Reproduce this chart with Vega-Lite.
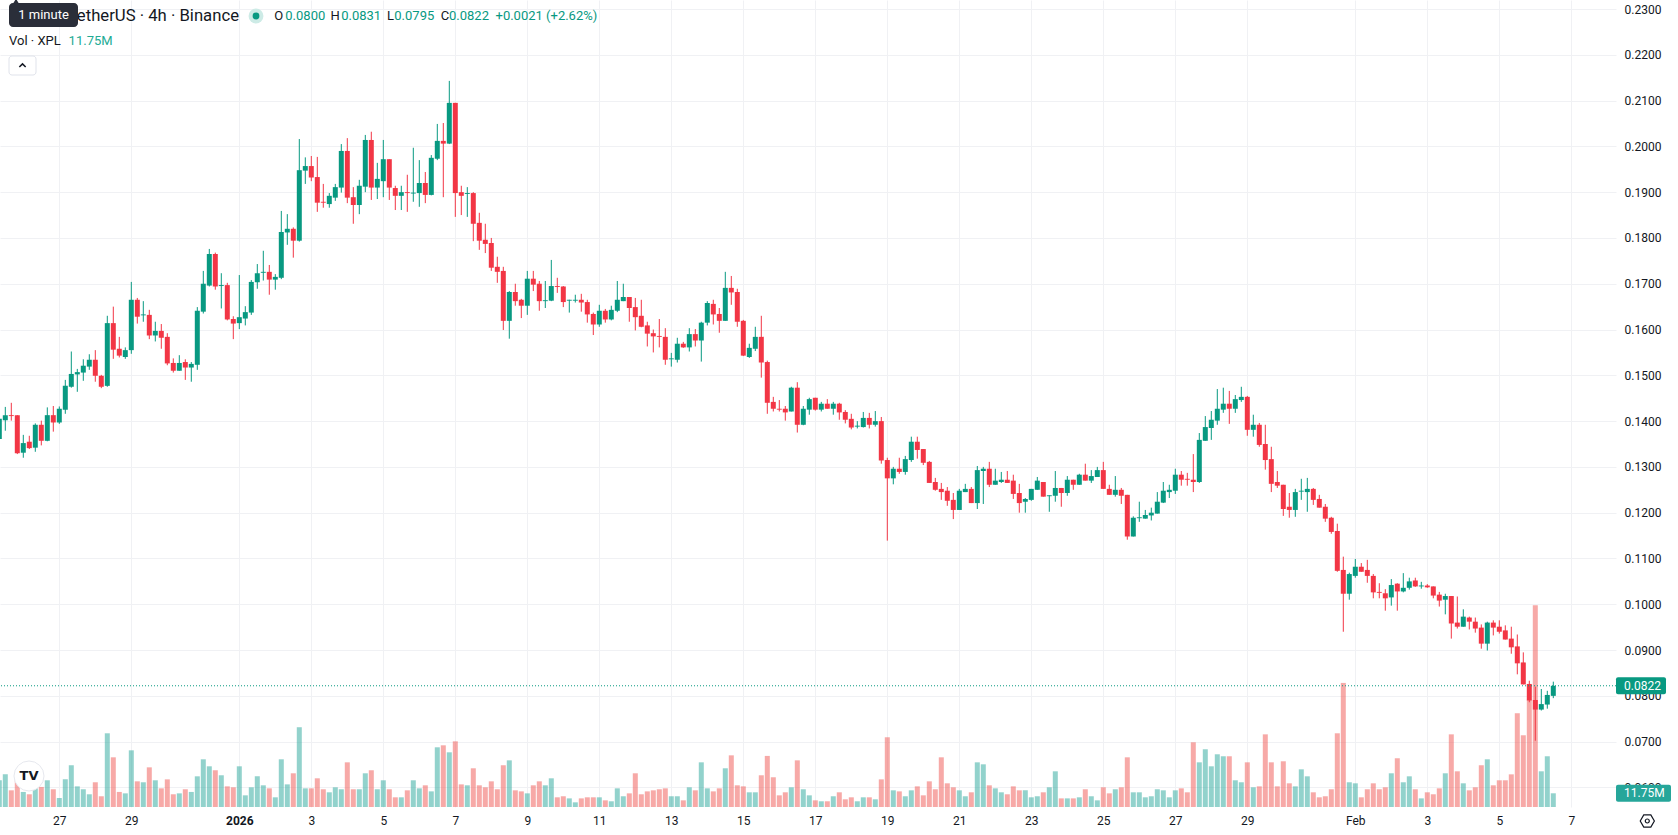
{
  "$schema": "https://vega.github.io/schema/vega-lite/v6.json",
  "width": 1616,
  "height": 807,
  "padding": {"left": 0, "top": 0, "right": 62, "bottom": 28},
  "autosize": {"type": "none"},
  "background": "#ffffff",
  "config": {"view": {"stroke": null}, "font": "Roboto"},
  "data": {
    "values": [
      {"t": "2025-12-25T08:00Z", "o": 0.1361, "h": 0.1410, "l": 0.1355, "c": 0.1405, "v": 22.9},
      {"t": "2025-12-25T12:00Z", "o": 0.1402, "h": 0.1431, "l": 0.1379, "c": 0.1413, "v": 28.0},
      {"t": "2025-12-25T16:00Z", "o": 0.1413, "h": 0.1440, "l": 0.1401, "c": 0.1411, "v": 14.3},
      {"t": "2025-12-25T20:00Z", "o": 0.1413, "h": 0.1413, "l": 0.1328, "c": 0.1330, "v": 25.0},
      {"t": "2025-12-26T00:00Z", "o": 0.1331, "h": 0.1370, "l": 0.1320, "c": 0.1352, "v": 12.9},
      {"t": "2025-12-26T04:00Z", "o": 0.1355, "h": 0.1368, "l": 0.1339, "c": 0.1341, "v": 10.9},
      {"t": "2025-12-26T08:00Z", "o": 0.1342, "h": 0.1395, "l": 0.1333, "c": 0.1392, "v": 18.6},
      {"t": "2025-12-26T12:00Z", "o": 0.1392, "h": 0.1401, "l": 0.1347, "c": 0.1357, "v": 17.2},
      {"t": "2025-12-26T16:00Z", "o": 0.1357, "h": 0.1430, "l": 0.1356, "c": 0.1413, "v": 22.9},
      {"t": "2025-12-26T20:00Z", "o": 0.1413, "h": 0.1433, "l": 0.1377, "c": 0.1397, "v": 15.2},
      {"t": "2025-12-27T00:00Z", "o": 0.1397, "h": 0.1432, "l": 0.1394, "c": 0.1427, "v": 7.7},
      {"t": "2025-12-27T04:00Z", "o": 0.1425, "h": 0.1490, "l": 0.1416, "c": 0.1477, "v": 23.7},
      {"t": "2025-12-27T08:00Z", "o": 0.1475, "h": 0.1552, "l": 0.1473, "c": 0.1503, "v": 35.8},
      {"t": "2025-12-27T12:00Z", "o": 0.1502, "h": 0.1514, "l": 0.1464, "c": 0.1507, "v": 17.7},
      {"t": "2025-12-27T16:00Z", "o": 0.1506, "h": 0.1535, "l": 0.1488, "c": 0.1521, "v": 15.2},
      {"t": "2025-12-27T20:00Z", "o": 0.1519, "h": 0.1546, "l": 0.1512, "c": 0.1534, "v": 10.9},
      {"t": "2025-12-28T00:00Z", "o": 0.1534, "h": 0.1555, "l": 0.1486, "c": 0.1499, "v": 21.2},
      {"t": "2025-12-28T04:00Z", "o": 0.1499, "h": 0.1501, "l": 0.1472, "c": 0.1475, "v": 9.2},
      {"t": "2025-12-28T08:00Z", "o": 0.1477, "h": 0.1630, "l": 0.1475, "c": 0.1614, "v": 63.2},
      {"t": "2025-12-28T12:00Z", "o": 0.1614, "h": 0.1650, "l": 0.1536, "c": 0.1556, "v": 42.6},
      {"t": "2025-12-28T16:00Z", "o": 0.1558, "h": 0.1584, "l": 0.1539, "c": 0.1543, "v": 12.9},
      {"t": "2025-12-28T20:00Z", "o": 0.1540, "h": 0.1561, "l": 0.1536, "c": 0.1555, "v": 11.7},
      {"t": "2025-12-29T00:00Z", "o": 0.1555, "h": 0.1704, "l": 0.1547, "c": 0.1665, "v": 48.6},
      {"t": "2025-12-29T04:00Z", "o": 0.1665, "h": 0.1669, "l": 0.1613, "c": 0.1628, "v": 22.0},
      {"t": "2025-12-29T08:00Z", "o": 0.1631, "h": 0.1662, "l": 0.1617, "c": 0.1633, "v": 21.2},
      {"t": "2025-12-29T12:00Z", "o": 0.1632, "h": 0.1643, "l": 0.1579, "c": 0.1587, "v": 34.0},
      {"t": "2025-12-29T16:00Z", "o": 0.1587, "h": 0.1617, "l": 0.1574, "c": 0.1597, "v": 22.9},
      {"t": "2025-12-29T20:00Z", "o": 0.1597, "h": 0.1612, "l": 0.1558, "c": 0.1582, "v": 16.0},
      {"t": "2025-12-30T00:00Z", "o": 0.1584, "h": 0.1592, "l": 0.1522, "c": 0.1526, "v": 23.7},
      {"t": "2025-12-30T04:00Z", "o": 0.1527, "h": 0.1537, "l": 0.1506, "c": 0.1510, "v": 10.9},
      {"t": "2025-12-30T08:00Z", "o": 0.1510, "h": 0.1544, "l": 0.1510, "c": 0.1527, "v": 11.7},
      {"t": "2025-12-30T12:00Z", "o": 0.1529, "h": 0.1535, "l": 0.1490, "c": 0.1517, "v": 15.2},
      {"t": "2025-12-30T16:00Z", "o": 0.1517, "h": 0.1529, "l": 0.1486, "c": 0.1525, "v": 12.9},
      {"t": "2025-12-30T20:00Z", "o": 0.1523, "h": 0.1649, "l": 0.1512, "c": 0.1641, "v": 26.3},
      {"t": "2025-12-31T00:00Z", "o": 0.1639, "h": 0.1728, "l": 0.1635, "c": 0.1700, "v": 40.9},
      {"t": "2025-12-31T04:00Z", "o": 0.1696, "h": 0.1776, "l": 0.1694, "c": 0.1765, "v": 34.9},
      {"t": "2025-12-31T08:00Z", "o": 0.1765, "h": 0.1768, "l": 0.1687, "c": 0.1694, "v": 31.5},
      {"t": "2025-12-31T12:00Z", "o": 0.1695, "h": 0.1723, "l": 0.1646, "c": 0.1697, "v": 27.2},
      {"t": "2025-12-31T16:00Z", "o": 0.1697, "h": 0.1702, "l": 0.1620, "c": 0.1622, "v": 17.7},
      {"t": "2025-12-31T20:00Z", "o": 0.1623, "h": 0.1629, "l": 0.1579, "c": 0.1613, "v": 16.9},
      {"t": "2026-01-01T00:00Z", "o": 0.1614, "h": 0.1719, "l": 0.1601, "c": 0.1627, "v": 34.9},
      {"t": "2026-01-01T04:00Z", "o": 0.1624, "h": 0.1651, "l": 0.1609, "c": 0.1638, "v": 10.0},
      {"t": "2026-01-01T08:00Z", "o": 0.1637, "h": 0.1708, "l": 0.1632, "c": 0.1704, "v": 16.9},
      {"t": "2026-01-01T12:00Z", "o": 0.1703, "h": 0.1743, "l": 0.1689, "c": 0.1723, "v": 26.3},
      {"t": "2026-01-01T16:00Z", "o": 0.1724, "h": 0.1772, "l": 0.1707, "c": 0.1726, "v": 18.6},
      {"t": "2026-01-01T20:00Z", "o": 0.1726, "h": 0.1741, "l": 0.1676, "c": 0.1709, "v": 16.0},
      {"t": "2026-01-02T00:00Z", "o": 0.1709, "h": 0.1721, "l": 0.1687, "c": 0.1715, "v": 8.3},
      {"t": "2026-01-02T04:00Z", "o": 0.1713, "h": 0.1859, "l": 0.1710, "c": 0.1813, "v": 40.9},
      {"t": "2026-01-02T08:00Z", "o": 0.1812, "h": 0.1852, "l": 0.1785, "c": 0.1820, "v": 19.4},
      {"t": "2026-01-02T12:00Z", "o": 0.1820, "h": 0.1823, "l": 0.1757, "c": 0.1794, "v": 28.9},
      {"t": "2026-01-02T16:00Z", "o": 0.1794, "h": 0.2016, "l": 0.1792, "c": 0.1948, "v": 68.4},
      {"t": "2026-01-02T20:00Z", "o": 0.1947, "h": 0.1976, "l": 0.1918, "c": 0.1957, "v": 16.0},
      {"t": "2026-01-03T00:00Z", "o": 0.1957, "h": 0.1979, "l": 0.1924, "c": 0.1932, "v": 16.0},
      {"t": "2026-01-03T04:00Z", "o": 0.1933, "h": 0.1977, "l": 0.1857, "c": 0.1877, "v": 24.6},
      {"t": "2026-01-03T08:00Z", "o": 0.1879, "h": 0.1918, "l": 0.1866, "c": 0.1877, "v": 15.2},
      {"t": "2026-01-03T12:00Z", "o": 0.1874, "h": 0.1898, "l": 0.1866, "c": 0.1892, "v": 12.6},
      {"t": "2026-01-03T16:00Z", "o": 0.1888, "h": 0.1918, "l": 0.1881, "c": 0.1911, "v": 16.9},
      {"t": "2026-01-03T20:00Z", "o": 0.1910, "h": 0.2005, "l": 0.1899, "c": 0.1990, "v": 15.2},
      {"t": "2026-01-04T00:00Z", "o": 0.1990, "h": 0.2018, "l": 0.1876, "c": 0.1888, "v": 38.3},
      {"t": "2026-01-04T04:00Z", "o": 0.1889, "h": 0.1911, "l": 0.1831, "c": 0.1872, "v": 15.2},
      {"t": "2026-01-04T08:00Z", "o": 0.1872, "h": 0.1927, "l": 0.1852, "c": 0.1914, "v": 15.2},
      {"t": "2026-01-04T12:00Z", "o": 0.1912, "h": 0.2025, "l": 0.1900, "c": 0.2014, "v": 28.9},
      {"t": "2026-01-04T16:00Z", "o": 0.2014, "h": 0.2032, "l": 0.1883, "c": 0.1910, "v": 31.5},
      {"t": "2026-01-04T20:00Z", "o": 0.1910, "h": 0.1964, "l": 0.1885, "c": 0.1929, "v": 15.2},
      {"t": "2026-01-05T00:00Z", "o": 0.1924, "h": 0.2014, "l": 0.1889, "c": 0.1972, "v": 22.9},
      {"t": "2026-01-05T04:00Z", "o": 0.1972, "h": 0.1972, "l": 0.1883, "c": 0.1910, "v": 15.2},
      {"t": "2026-01-05T08:00Z", "o": 0.1909, "h": 0.1914, "l": 0.1861, "c": 0.1892, "v": 8.3},
      {"t": "2026-01-05T12:00Z", "o": 0.1892, "h": 0.1914, "l": 0.1861, "c": 0.1900, "v": 8.3},
      {"t": "2026-01-05T16:00Z", "o": 0.1900, "h": 0.1938, "l": 0.1857, "c": 0.1898, "v": 14.3},
      {"t": "2026-01-05T20:00Z", "o": 0.1897, "h": 0.1997, "l": 0.1879, "c": 0.1899, "v": 22.9},
      {"t": "2026-01-06T00:00Z", "o": 0.1898, "h": 0.1970, "l": 0.1868, "c": 0.1920, "v": 16.0},
      {"t": "2026-01-06T04:00Z", "o": 0.1920, "h": 0.1944, "l": 0.1876, "c": 0.1894, "v": 18.6},
      {"t": "2026-01-06T08:00Z", "o": 0.1894, "h": 0.1981, "l": 0.1893, "c": 0.1975, "v": 13.4},
      {"t": "2026-01-06T12:00Z", "o": 0.1973, "h": 0.2049, "l": 0.1970, "c": 0.2012, "v": 51.2},
      {"t": "2026-01-06T16:00Z", "o": 0.2012, "h": 0.2051, "l": 0.1889, "c": 0.2006, "v": 52.9},
      {"t": "2026-01-06T20:00Z", "o": 0.2006, "h": 0.2143, "l": 0.2005, "c": 0.2095, "v": 46.9},
      {"t": "2026-01-07T00:00Z", "o": 0.2095, "h": 0.2095, "l": 0.1846, "c": 0.1898, "v": 56.3},
      {"t": "2026-01-07T04:00Z", "o": 0.1900, "h": 0.1914, "l": 0.1850, "c": 0.1892, "v": 19.4},
      {"t": "2026-01-07T08:00Z", "o": 0.1896, "h": 0.1911, "l": 0.1846, "c": 0.1898, "v": 18.6},
      {"t": "2026-01-07T12:00Z", "o": 0.1898, "h": 0.1900, "l": 0.1793, "c": 0.1831, "v": 33.2},
      {"t": "2026-01-07T16:00Z", "o": 0.1833, "h": 0.1855, "l": 0.1774, "c": 0.1794, "v": 18.6},
      {"t": "2026-01-07T20:00Z", "o": 0.1796, "h": 0.1831, "l": 0.1767, "c": 0.1787, "v": 16.9},
      {"t": "2026-01-08T00:00Z", "o": 0.1789, "h": 0.1800, "l": 0.1728, "c": 0.1735, "v": 22.0},
      {"t": "2026-01-08T04:00Z", "o": 0.1737, "h": 0.1759, "l": 0.1702, "c": 0.1726, "v": 15.2},
      {"t": "2026-01-08T08:00Z", "o": 0.1728, "h": 0.1737, "l": 0.1599, "c": 0.1619, "v": 35.8},
      {"t": "2026-01-08T12:00Z", "o": 0.1619, "h": 0.1684, "l": 0.1580, "c": 0.1682, "v": 40.0},
      {"t": "2026-01-08T16:00Z", "o": 0.1682, "h": 0.1700, "l": 0.1652, "c": 0.1662, "v": 14.3},
      {"t": "2026-01-08T20:00Z", "o": 0.1665, "h": 0.1667, "l": 0.1625, "c": 0.1652, "v": 13.4},
      {"t": "2026-01-09T00:00Z", "o": 0.1652, "h": 0.1728, "l": 0.1632, "c": 0.1711, "v": 11.7},
      {"t": "2026-01-09T04:00Z", "o": 0.1711, "h": 0.1728, "l": 0.1684, "c": 0.1698, "v": 18.6},
      {"t": "2026-01-09T08:00Z", "o": 0.1700, "h": 0.1706, "l": 0.1641, "c": 0.1662, "v": 22.0},
      {"t": "2026-01-09T12:00Z", "o": 0.1662, "h": 0.1706, "l": 0.1647, "c": 0.1664, "v": 18.6},
      {"t": "2026-01-09T16:00Z", "o": 0.1663, "h": 0.1752, "l": 0.1662, "c": 0.1695, "v": 24.6},
      {"t": "2026-01-09T20:00Z", "o": 0.1695, "h": 0.1713, "l": 0.1680, "c": 0.1693, "v": 8.3},
      {"t": "2026-01-10T00:00Z", "o": 0.1694, "h": 0.1695, "l": 0.1649, "c": 0.1660, "v": 9.2},
      {"t": "2026-01-10T04:00Z", "o": 0.1663, "h": 0.1665, "l": 0.1637, "c": 0.1665, "v": 7.4},
      {"t": "2026-01-10T08:00Z", "o": 0.1663, "h": 0.1676, "l": 0.1659, "c": 0.1665, "v": 4.0},
      {"t": "2026-01-10T12:00Z", "o": 0.1665, "h": 0.1678, "l": 0.1639, "c": 0.1659, "v": 7.4},
      {"t": "2026-01-10T16:00Z", "o": 0.1660, "h": 0.1665, "l": 0.1615, "c": 0.1633, "v": 8.3},
      {"t": "2026-01-10T20:00Z", "o": 0.1634, "h": 0.1637, "l": 0.1588, "c": 0.1611, "v": 8.3},
      {"t": "2026-01-11T00:00Z", "o": 0.1611, "h": 0.1654, "l": 0.1606, "c": 0.1641, "v": 8.3},
      {"t": "2026-01-11T04:00Z", "o": 0.1641, "h": 0.1645, "l": 0.1615, "c": 0.1622, "v": 5.7},
      {"t": "2026-01-11T08:00Z", "o": 0.1622, "h": 0.1652, "l": 0.1620, "c": 0.1643, "v": 4.9},
      {"t": "2026-01-11T12:00Z", "o": 0.1641, "h": 0.1706, "l": 0.1638, "c": 0.1665, "v": 16.0},
      {"t": "2026-01-11T16:00Z", "o": 0.1662, "h": 0.1700, "l": 0.1662, "c": 0.1671, "v": 9.2},
      {"t": "2026-01-11T20:00Z", "o": 0.1671, "h": 0.1671, "l": 0.1617, "c": 0.1647, "v": 11.7},
      {"t": "2026-01-12T00:00Z", "o": 0.1649, "h": 0.1669, "l": 0.1598, "c": 0.1627, "v": 28.9},
      {"t": "2026-01-12T04:00Z", "o": 0.1630, "h": 0.1665, "l": 0.1605, "c": 0.1606, "v": 10.9},
      {"t": "2026-01-12T08:00Z", "o": 0.1609, "h": 0.1617, "l": 0.1563, "c": 0.1591, "v": 13.4},
      {"t": "2026-01-12T12:00Z", "o": 0.1592, "h": 0.1600, "l": 0.1550, "c": 0.1585, "v": 14.3},
      {"t": "2026-01-12T16:00Z", "o": 0.1586, "h": 0.1623, "l": 0.1561, "c": 0.1584, "v": 15.2},
      {"t": "2026-01-12T20:00Z", "o": 0.1584, "h": 0.1603, "l": 0.1523, "c": 0.1534, "v": 16.0},
      {"t": "2026-01-13T00:00Z", "o": 0.1535, "h": 0.1549, "l": 0.1519, "c": 0.1537, "v": 9.2},
      {"t": "2026-01-13T04:00Z", "o": 0.1534, "h": 0.1582, "l": 0.1528, "c": 0.1569, "v": 9.2},
      {"t": "2026-01-13T08:00Z", "o": 0.1569, "h": 0.1573, "l": 0.1560, "c": 0.1561, "v": 5.7},
      {"t": "2026-01-13T12:00Z", "o": 0.1561, "h": 0.1603, "l": 0.1552, "c": 0.1590, "v": 16.9},
      {"t": "2026-01-13T16:00Z", "o": 0.1590, "h": 0.1601, "l": 0.1563, "c": 0.1576, "v": 14.3},
      {"t": "2026-01-13T20:00Z", "o": 0.1576, "h": 0.1617, "l": 0.1530, "c": 0.1615, "v": 38.3},
      {"t": "2026-01-14T00:00Z", "o": 0.1615, "h": 0.1662, "l": 0.1609, "c": 0.1658, "v": 16.0},
      {"t": "2026-01-14T04:00Z", "o": 0.1656, "h": 0.1665, "l": 0.1611, "c": 0.1633, "v": 13.4},
      {"t": "2026-01-14T08:00Z", "o": 0.1634, "h": 0.1647, "l": 0.1593, "c": 0.1619, "v": 16.0},
      {"t": "2026-01-14T12:00Z", "o": 0.1619, "h": 0.1726, "l": 0.1619, "c": 0.1691, "v": 33.2},
      {"t": "2026-01-14T16:00Z", "o": 0.1691, "h": 0.1717, "l": 0.1654, "c": 0.1681, "v": 44.3},
      {"t": "2026-01-14T20:00Z", "o": 0.1682, "h": 0.1689, "l": 0.1606, "c": 0.1617, "v": 18.6},
      {"t": "2026-01-15T00:00Z", "o": 0.1619, "h": 0.1621, "l": 0.1542, "c": 0.1543, "v": 17.7},
      {"t": "2026-01-15T04:00Z", "o": 0.1540, "h": 0.1569, "l": 0.1538, "c": 0.1560, "v": 12.6},
      {"t": "2026-01-15T08:00Z", "o": 0.1558, "h": 0.1606, "l": 0.1553, "c": 0.1584, "v": 12.6},
      {"t": "2026-01-15T12:00Z", "o": 0.1584, "h": 0.1630, "l": 0.1495, "c": 0.1528, "v": 27.2},
      {"t": "2026-01-15T16:00Z", "o": 0.1529, "h": 0.1532, "l": 0.1416, "c": 0.1440, "v": 43.8},
      {"t": "2026-01-15T20:00Z", "o": 0.1442, "h": 0.1453, "l": 0.1421, "c": 0.1427, "v": 25.5},
      {"t": "2026-01-16T00:00Z", "o": 0.1427, "h": 0.1446, "l": 0.1421, "c": 0.1425, "v": 10.0},
      {"t": "2026-01-16T04:00Z", "o": 0.1427, "h": 0.1433, "l": 0.1401, "c": 0.1419, "v": 12.6},
      {"t": "2026-01-16T08:00Z", "o": 0.1421, "h": 0.1475, "l": 0.1421, "c": 0.1473, "v": 16.9},
      {"t": "2026-01-16T12:00Z", "o": 0.1473, "h": 0.1485, "l": 0.1375, "c": 0.1392, "v": 40.0},
      {"t": "2026-01-16T16:00Z", "o": 0.1392, "h": 0.1433, "l": 0.1391, "c": 0.1427, "v": 15.2},
      {"t": "2026-01-16T20:00Z", "o": 0.1425, "h": 0.1451, "l": 0.1414, "c": 0.1448, "v": 10.0},
      {"t": "2026-01-17T00:00Z", "o": 0.1451, "h": 0.1451, "l": 0.1423, "c": 0.1425, "v": 5.7},
      {"t": "2026-01-17T04:00Z", "o": 0.1425, "h": 0.1442, "l": 0.1421, "c": 0.1438, "v": 4.9},
      {"t": "2026-01-17T08:00Z", "o": 0.1438, "h": 0.1448, "l": 0.1427, "c": 0.1427, "v": 4.9},
      {"t": "2026-01-17T12:00Z", "o": 0.1427, "h": 0.1442, "l": 0.1414, "c": 0.1438, "v": 9.2},
      {"t": "2026-01-17T16:00Z", "o": 0.1438, "h": 0.1440, "l": 0.1403, "c": 0.1419, "v": 12.6},
      {"t": "2026-01-17T20:00Z", "o": 0.1420, "h": 0.1424, "l": 0.1395, "c": 0.1403, "v": 6.6},
      {"t": "2026-01-18T00:00Z", "o": 0.1405, "h": 0.1416, "l": 0.1382, "c": 0.1386, "v": 8.3},
      {"t": "2026-01-18T04:00Z", "o": 0.1388, "h": 0.1400, "l": 0.1384, "c": 0.1390, "v": 4.9},
      {"t": "2026-01-18T08:00Z", "o": 0.1387, "h": 0.1420, "l": 0.1386, "c": 0.1407, "v": 8.3},
      {"t": "2026-01-18T12:00Z", "o": 0.1407, "h": 0.1418, "l": 0.1384, "c": 0.1392, "v": 8.3},
      {"t": "2026-01-18T16:00Z", "o": 0.1392, "h": 0.1422, "l": 0.1388, "c": 0.1400, "v": 6.6},
      {"t": "2026-01-18T20:00Z", "o": 0.1400, "h": 0.1409, "l": 0.1307, "c": 0.1314, "v": 23.7},
      {"t": "2026-01-19T00:00Z", "o": 0.1315, "h": 0.1320, "l": 0.1139, "c": 0.1275, "v": 59.8},
      {"t": "2026-01-19T04:00Z", "o": 0.1275, "h": 0.1300, "l": 0.1262, "c": 0.1296, "v": 14.3},
      {"t": "2026-01-19T08:00Z", "o": 0.1296, "h": 0.1320, "l": 0.1285, "c": 0.1289, "v": 13.4},
      {"t": "2026-01-19T12:00Z", "o": 0.1289, "h": 0.1324, "l": 0.1283, "c": 0.1317, "v": 9.2},
      {"t": "2026-01-19T16:00Z", "o": 0.1315, "h": 0.1366, "l": 0.1311, "c": 0.1355, "v": 14.3},
      {"t": "2026-01-19T20:00Z", "o": 0.1355, "h": 0.1366, "l": 0.1318, "c": 0.1337, "v": 17.7},
      {"t": "2026-01-20T00:00Z", "o": 0.1339, "h": 0.1339, "l": 0.1304, "c": 0.1309, "v": 10.0},
      {"t": "2026-01-20T04:00Z", "o": 0.1311, "h": 0.1313, "l": 0.1265, "c": 0.1265, "v": 22.0},
      {"t": "2026-01-20T08:00Z", "o": 0.1267, "h": 0.1276, "l": 0.1248, "c": 0.1250, "v": 15.2},
      {"t": "2026-01-20T12:00Z", "o": 0.1252, "h": 0.1265, "l": 0.1228, "c": 0.1245, "v": 42.6},
      {"t": "2026-01-20T16:00Z", "o": 0.1248, "h": 0.1256, "l": 0.1215, "c": 0.1226, "v": 20.3},
      {"t": "2026-01-20T20:00Z", "o": 0.1228, "h": 0.1243, "l": 0.1186, "c": 0.1206, "v": 16.9},
      {"t": "2026-01-21T00:00Z", "o": 0.1206, "h": 0.1252, "l": 0.1206, "c": 0.1248, "v": 14.3},
      {"t": "2026-01-21T04:00Z", "o": 0.1245, "h": 0.1263, "l": 0.1245, "c": 0.1252, "v": 9.2},
      {"t": "2026-01-21T08:00Z", "o": 0.1252, "h": 0.1256, "l": 0.1221, "c": 0.1221, "v": 12.6},
      {"t": "2026-01-21T12:00Z", "o": 0.1221, "h": 0.1302, "l": 0.1208, "c": 0.1293, "v": 38.3},
      {"t": "2026-01-21T16:00Z", "o": 0.1291, "h": 0.1300, "l": 0.1219, "c": 0.1296, "v": 36.6},
      {"t": "2026-01-21T20:00Z", "o": 0.1296, "h": 0.1311, "l": 0.1256, "c": 0.1261, "v": 18.6},
      {"t": "2026-01-22T00:00Z", "o": 0.1261, "h": 0.1296, "l": 0.1261, "c": 0.1270, "v": 16.0},
      {"t": "2026-01-22T04:00Z", "o": 0.1267, "h": 0.1289, "l": 0.1265, "c": 0.1272, "v": 12.6},
      {"t": "2026-01-22T08:00Z", "o": 0.1272, "h": 0.1291, "l": 0.1265, "c": 0.1265, "v": 10.9},
      {"t": "2026-01-22T12:00Z", "o": 0.1270, "h": 0.1283, "l": 0.1230, "c": 0.1241, "v": 17.7},
      {"t": "2026-01-22T16:00Z", "o": 0.1243, "h": 0.1263, "l": 0.1200, "c": 0.1221, "v": 14.3},
      {"t": "2026-01-22T20:00Z", "o": 0.1224, "h": 0.1232, "l": 0.1200, "c": 0.1230, "v": 14.3},
      {"t": "2026-01-23T00:00Z", "o": 0.1228, "h": 0.1252, "l": 0.1226, "c": 0.1252, "v": 8.3},
      {"t": "2026-01-23T04:00Z", "o": 0.1250, "h": 0.1278, "l": 0.1250, "c": 0.1270, "v": 9.2},
      {"t": "2026-01-23T08:00Z", "o": 0.1267, "h": 0.1267, "l": 0.1235, "c": 0.1235, "v": 12.6},
      {"t": "2026-01-23T12:00Z", "o": 0.1236, "h": 0.1238, "l": 0.1202, "c": 0.1238, "v": 16.9},
      {"t": "2026-01-23T16:00Z", "o": 0.1237, "h": 0.1291, "l": 0.1224, "c": 0.1254, "v": 30.6},
      {"t": "2026-01-23T20:00Z", "o": 0.1254, "h": 0.1254, "l": 0.1213, "c": 0.1243, "v": 7.4},
      {"t": "2026-01-24T00:00Z", "o": 0.1243, "h": 0.1280, "l": 0.1237, "c": 0.1272, "v": 7.4},
      {"t": "2026-01-24T04:00Z", "o": 0.1272, "h": 0.1272, "l": 0.1250, "c": 0.1261, "v": 7.4},
      {"t": "2026-01-24T08:00Z", "o": 0.1261, "h": 0.1285, "l": 0.1261, "c": 0.1283, "v": 8.3},
      {"t": "2026-01-24T12:00Z", "o": 0.1283, "h": 0.1307, "l": 0.1270, "c": 0.1270, "v": 15.2},
      {"t": "2026-01-24T16:00Z", "o": 0.1270, "h": 0.1293, "l": 0.1265, "c": 0.1280, "v": 9.2},
      {"t": "2026-01-24T20:00Z", "o": 0.1278, "h": 0.1300, "l": 0.1278, "c": 0.1293, "v": 5.7},
      {"t": "2026-01-25T00:00Z", "o": 0.1293, "h": 0.1311, "l": 0.1252, "c": 0.1252, "v": 16.9},
      {"t": "2026-01-25T04:00Z", "o": 0.1252, "h": 0.1261, "l": 0.1239, "c": 0.1239, "v": 11.7},
      {"t": "2026-01-25T08:00Z", "o": 0.1239, "h": 0.1280, "l": 0.1235, "c": 0.1250, "v": 15.2},
      {"t": "2026-01-25T12:00Z", "o": 0.1250, "h": 0.1254, "l": 0.1219, "c": 0.1237, "v": 16.9},
      {"t": "2026-01-25T16:00Z", "o": 0.1239, "h": 0.1239, "l": 0.1141, "c": 0.1148, "v": 42.6},
      {"t": "2026-01-25T20:00Z", "o": 0.1148, "h": 0.1192, "l": 0.1148, "c": 0.1189, "v": 12.6},
      {"t": "2026-01-26T00:00Z", "o": 0.1188, "h": 0.1224, "l": 0.1180, "c": 0.1190, "v": 12.6},
      {"t": "2026-01-26T04:00Z", "o": 0.1187, "h": 0.1206, "l": 0.1187, "c": 0.1195, "v": 8.3},
      {"t": "2026-01-26T08:00Z", "o": 0.1194, "h": 0.1211, "l": 0.1183, "c": 0.1200, "v": 9.2},
      {"t": "2026-01-26T12:00Z", "o": 0.1198, "h": 0.1245, "l": 0.1198, "c": 0.1224, "v": 15.2},
      {"t": "2026-01-26T16:00Z", "o": 0.1222, "h": 0.1267, "l": 0.1221, "c": 0.1248, "v": 14.3},
      {"t": "2026-01-26T20:00Z", "o": 0.1245, "h": 0.1261, "l": 0.1232, "c": 0.1250, "v": 8.3},
      {"t": "2026-01-27T00:00Z", "o": 0.1248, "h": 0.1296, "l": 0.1241, "c": 0.1283, "v": 14.3},
      {"t": "2026-01-27T04:00Z", "o": 0.1283, "h": 0.1291, "l": 0.1259, "c": 0.1272, "v": 16.0},
      {"t": "2026-01-27T08:00Z", "o": 0.1274, "h": 0.1287, "l": 0.1259, "c": 0.1272, "v": 12.6},
      {"t": "2026-01-27T12:00Z", "o": 0.1272, "h": 0.1328, "l": 0.1245, "c": 0.1267, "v": 55.5},
      {"t": "2026-01-27T16:00Z", "o": 0.1267, "h": 0.1374, "l": 0.1265, "c": 0.1359, "v": 38.3},
      {"t": "2026-01-27T20:00Z", "o": 0.1357, "h": 0.1411, "l": 0.1357, "c": 0.1387, "v": 49.5},
      {"t": "2026-01-28T00:00Z", "o": 0.1385, "h": 0.1422, "l": 0.1359, "c": 0.1403, "v": 34.9},
      {"t": "2026-01-28T04:00Z", "o": 0.1401, "h": 0.1470, "l": 0.1392, "c": 0.1427, "v": 45.2},
      {"t": "2026-01-28T08:00Z", "o": 0.1425, "h": 0.1473, "l": 0.1418, "c": 0.1438, "v": 43.5},
      {"t": "2026-01-28T12:00Z", "o": 0.1438, "h": 0.1466, "l": 0.1394, "c": 0.1427, "v": 43.5},
      {"t": "2026-01-28T16:00Z", "o": 0.1427, "h": 0.1457, "l": 0.1418, "c": 0.1448, "v": 22.9},
      {"t": "2026-01-28T20:00Z", "o": 0.1446, "h": 0.1475, "l": 0.1442, "c": 0.1453, "v": 21.2},
      {"t": "2026-01-29T00:00Z", "o": 0.1453, "h": 0.1455, "l": 0.1368, "c": 0.1381, "v": 38.3},
      {"t": "2026-01-29T04:00Z", "o": 0.1381, "h": 0.1414, "l": 0.1366, "c": 0.1392, "v": 16.9},
      {"t": "2026-01-29T08:00Z", "o": 0.1392, "h": 0.1396, "l": 0.1344, "c": 0.1348, "v": 17.7},
      {"t": "2026-01-29T12:00Z", "o": 0.1350, "h": 0.1392, "l": 0.1294, "c": 0.1315, "v": 62.3},
      {"t": "2026-01-29T16:00Z", "o": 0.1317, "h": 0.1344, "l": 0.1245, "c": 0.1263, "v": 38.3},
      {"t": "2026-01-29T20:00Z", "o": 0.1267, "h": 0.1291, "l": 0.1254, "c": 0.1259, "v": 17.7},
      {"t": "2026-01-30T00:00Z", "o": 0.1261, "h": 0.1261, "l": 0.1193, "c": 0.1208, "v": 39.2},
      {"t": "2026-01-30T04:00Z", "o": 0.1213, "h": 0.1243, "l": 0.1189, "c": 0.1206, "v": 20.3},
      {"t": "2026-01-30T08:00Z", "o": 0.1206, "h": 0.1252, "l": 0.1191, "c": 0.1245, "v": 17.7},
      {"t": "2026-01-30T12:00Z", "o": 0.1246, "h": 0.1274, "l": 0.1228, "c": 0.1248, "v": 32.3},
      {"t": "2026-01-30T16:00Z", "o": 0.1245, "h": 0.1276, "l": 0.1202, "c": 0.1252, "v": 26.3},
      {"t": "2026-01-30T20:00Z", "o": 0.1252, "h": 0.1254, "l": 0.1217, "c": 0.1228, "v": 12.6},
      {"t": "2026-01-31T00:00Z", "o": 0.1230, "h": 0.1239, "l": 0.1211, "c": 0.1211, "v": 8.3},
      {"t": "2026-01-31T04:00Z", "o": 0.1213, "h": 0.1219, "l": 0.1180, "c": 0.1187, "v": 9.2},
      {"t": "2026-01-31T08:00Z", "o": 0.1189, "h": 0.1191, "l": 0.1154, "c": 0.1158, "v": 15.2},
      {"t": "2026-01-31T12:00Z", "o": 0.1160, "h": 0.1176, "l": 0.1071, "c": 0.1073, "v": 63.2},
      {"t": "2026-01-31T16:00Z", "o": 0.1075, "h": 0.1104, "l": 0.0940, "c": 0.1023, "v": 106.4},
      {"t": "2026-01-31T20:00Z", "o": 0.1023, "h": 0.1069, "l": 0.1010, "c": 0.1066, "v": 21.2},
      {"t": "2026-02-01T00:00Z", "o": 0.1062, "h": 0.1099, "l": 0.1058, "c": 0.1082, "v": 20.3},
      {"t": "2026-02-01T04:00Z", "o": 0.1082, "h": 0.1090, "l": 0.1071, "c": 0.1071, "v": 8.3},
      {"t": "2026-02-01T08:00Z", "o": 0.1075, "h": 0.1097, "l": 0.1047, "c": 0.1062, "v": 15.2},
      {"t": "2026-02-01T12:00Z", "o": 0.1062, "h": 0.1066, "l": 0.1013, "c": 0.1026, "v": 20.3},
      {"t": "2026-02-01T16:00Z", "o": 0.1027, "h": 0.1046, "l": 0.1013, "c": 0.1025, "v": 15.2},
      {"t": "2026-02-01T20:00Z", "o": 0.1024, "h": 0.1033, "l": 0.0986, "c": 0.1013, "v": 16.9},
      {"t": "2026-02-02T00:00Z", "o": 0.1015, "h": 0.1055, "l": 0.0997, "c": 0.1042, "v": 28.9},
      {"t": "2026-02-02T04:00Z", "o": 0.1045, "h": 0.1046, "l": 0.0986, "c": 0.1028, "v": 41.8},
      {"t": "2026-02-02T08:00Z", "o": 0.1028, "h": 0.1068, "l": 0.1026, "c": 0.1036, "v": 21.2},
      {"t": "2026-02-02T12:00Z", "o": 0.1036, "h": 0.1058, "l": 0.1032, "c": 0.1050, "v": 26.3},
      {"t": "2026-02-02T16:00Z", "o": 0.1052, "h": 0.1058, "l": 0.1038, "c": 0.1039, "v": 15.2},
      {"t": "2026-02-02T20:00Z", "o": 0.1039, "h": 0.1049, "l": 0.1034, "c": 0.1041, "v": 7.4},
      {"t": "2026-02-03T00:00Z", "o": 0.1041, "h": 0.1044, "l": 0.1036, "c": 0.1037, "v": 12.6},
      {"t": "2026-02-03T04:00Z", "o": 0.1039, "h": 0.1039, "l": 0.1013, "c": 0.1019, "v": 10.9},
      {"t": "2026-02-03T08:00Z", "o": 0.1021, "h": 0.1027, "l": 0.0995, "c": 0.1008, "v": 16.0},
      {"t": "2026-02-03T12:00Z", "o": 0.1010, "h": 0.1023, "l": 0.0978, "c": 0.1018, "v": 28.9},
      {"t": "2026-02-03T16:00Z", "o": 0.1018, "h": 0.1018, "l": 0.0925, "c": 0.0958, "v": 62.3},
      {"t": "2026-02-03T20:00Z", "o": 0.0960, "h": 0.1017, "l": 0.0947, "c": 0.0951, "v": 30.6},
      {"t": "2026-02-04T00:00Z", "o": 0.0951, "h": 0.0989, "l": 0.0951, "c": 0.0973, "v": 20.3},
      {"t": "2026-02-04T04:00Z", "o": 0.0971, "h": 0.0973, "l": 0.0945, "c": 0.0962, "v": 14.3},
      {"t": "2026-02-04T08:00Z", "o": 0.0962, "h": 0.0971, "l": 0.0938, "c": 0.0947, "v": 16.9},
      {"t": "2026-02-04T12:00Z", "o": 0.0949, "h": 0.0956, "l": 0.0903, "c": 0.0914, "v": 35.8},
      {"t": "2026-02-04T16:00Z", "o": 0.0914, "h": 0.0962, "l": 0.0899, "c": 0.0960, "v": 40.9},
      {"t": "2026-02-04T20:00Z", "o": 0.0960, "h": 0.0965, "l": 0.0932, "c": 0.0949, "v": 18.6},
      {"t": "2026-02-05T00:00Z", "o": 0.0951, "h": 0.0965, "l": 0.0936, "c": 0.0940, "v": 22.9},
      {"t": "2026-02-05T04:00Z", "o": 0.0943, "h": 0.0954, "l": 0.0923, "c": 0.0923, "v": 22.9},
      {"t": "2026-02-05T08:00Z", "o": 0.0925, "h": 0.0951, "l": 0.0892, "c": 0.0906, "v": 28.0},
      {"t": "2026-02-05T12:00Z", "o": 0.0908, "h": 0.0934, "l": 0.0847, "c": 0.0871, "v": 80.4},
      {"t": "2026-02-05T16:00Z", "o": 0.0873, "h": 0.0895, "l": 0.0825, "c": 0.0825, "v": 61.5},
      {"t": "2026-02-05T20:00Z", "o": 0.0826, "h": 0.0833, "l": 0.0786, "c": 0.0790, "v": 92.0},
      {"t": "2026-02-06T00:00Z", "o": 0.0791, "h": 0.0820, "l": 0.0702, "c": 0.0770, "v": 173.0},
      {"t": "2026-02-06T04:00Z", "o": 0.0770, "h": 0.0815, "l": 0.0768, "c": 0.0782, "v": 30.6},
      {"t": "2026-02-06T08:00Z", "o": 0.0781, "h": 0.0811, "l": 0.0772, "c": 0.0802, "v": 43.5},
      {"t": "2026-02-06T12:00Z", "o": 0.0800, "h": 0.0831, "l": 0.0795, "c": 0.0822, "v": 11.75}
    ]
  },
  "resolve": {"scale": {"y": "independent"}},
  "layer": [
    {
      "layer": [
        {
          "mark": {"type": "bar", "width": 5, "opacity": 0.5},
          "encoding": {
            "x": {
              "field": "t", "type": "temporal", "title": null,
              "scale": {"type": "utc", "nice": false, "padding": 0, "domain": [{"year": 2025, "month": 12, "date": 25, "hours": 8, "minutes": 28, "utc": true}, {"year": 2026, "month": 2, "date": 8, "hours": 5, "minutes": 48, "utc": true}]},
              "axis": {
                "values": [
                  {"year": 2025, "month": 12, "date": 27, "utc": true}, {"year": 2025, "month": 12, "date": 29, "utc": true},
                  {"year": 2026, "month": 1, "date": 1, "utc": true}, {"year": 2026, "month": 1, "date": 3, "utc": true},
                  {"year": 2026, "month": 1, "date": 5, "utc": true}, {"year": 2026, "month": 1, "date": 7, "utc": true},
                  {"year": 2026, "month": 1, "date": 9, "utc": true}, {"year": 2026, "month": 1, "date": 11, "utc": true},
                  {"year": 2026, "month": 1, "date": 13, "utc": true}, {"year": 2026, "month": 1, "date": 15, "utc": true},
                  {"year": 2026, "month": 1, "date": 17, "utc": true}, {"year": 2026, "month": 1, "date": 19, "utc": true},
                  {"year": 2026, "month": 1, "date": 21, "utc": true}, {"year": 2026, "month": 1, "date": 23, "utc": true},
                  {"year": 2026, "month": 1, "date": 25, "utc": true}, {"year": 2026, "month": 1, "date": 27, "utc": true},
                  {"year": 2026, "month": 1, "date": 29, "utc": true}, {"year": 2026, "month": 2, "date": 1, "utc": true},
                  {"year": 2026, "month": 2, "date": 3, "utc": true}, {"year": 2026, "month": 2, "date": 5, "utc": true},
                  {"year": 2026, "month": 2, "date": 7, "utc": true}
                ],
                "labelExpr": "utcdate(datum.value) == 1 ? (utcmonth(datum.value) == 0 ? '' + utcyear(datum.value) : utcFormat(datum.value, '%b')) : '' + utcdate(datum.value)",
                "labelFontWeight": {"condition": {"test": "utcmonth(datum.value) == 0 && utcdate(datum.value) == 1", "value": "bold"}, "value": "normal"},
                "grid": true, "gridColor": "#f0f1f4", "gridWidth": 1,
                "domain": false, "ticks": false, "labelPadding": 8,
                "labelFont": "Roboto", "labelFontSize": 12, "labelColor": "#131722",
                "labelOverlap": false, "labelFlush": false
              }
            },
            "y": {"field": "v", "type": "quantitative", "title": null, "scale": {"domain": [0, 692], "nice": false}, "axis": null},
            "color": {"condition": {"test": "datum.c >= datum.o", "value": "#26a69a"}, "value": "#ef5350"}
          }
        }
      ]
    },
    {
      "layer": [
        {
          "mark": {"type": "rule", "strokeWidth": 1},
          "encoding": {
            "x": {"field": "t", "type": "temporal", "title": null, "scale": {"type": "utc", "nice": false, "padding": 0, "domain": [{"year": 2025, "month": 12, "date": 25, "hours": 8, "minutes": 28, "utc": true}, {"year": 2026, "month": 2, "date": 8, "hours": 5, "minutes": 48, "utc": true}]}},
            "y": {"field": "l", "type": "quantitative", "title": null, "scale": {"domain": [0.055727, 0.231966], "nice": false, "zero": false}},
            "y2": {"field": "h"},
            "color": {"condition": {"test": "datum.c >= datum.o", "value": "#089981"}, "value": "#f23645"}
          }
        },
        {
          "mark": {"type": "bar", "width": 5},
          "encoding": {
            "x": {"field": "t", "type": "temporal", "title": null, "scale": {"type": "utc", "nice": false, "padding": 0, "domain": [{"year": 2025, "month": 12, "date": 25, "hours": 8, "minutes": 28, "utc": true}, {"year": 2026, "month": 2, "date": 8, "hours": 5, "minutes": 48, "utc": true}]}},
            "y": {
              "field": "o", "type": "quantitative", "title": null,
              "scale": {"domain": [0.055727, 0.231966], "nice": false, "zero": false},
              "axis": {
                "orient": "right", "values": [0.06, 0.07, 0.08, 0.09, 0.1, 0.11, 0.12, 0.13, 0.14, 0.15, 0.16, 0.17, 0.18, 0.19, 0.2, 0.21, 0.22, 0.23],
                "format": ".4f", "grid": true, "gridColor": "#f0f1f4", "domain": false, "ticks": false,
                "labelPadding": 8, "labelFont": "Roboto", "labelFontSize": 12, "labelColor": "#131722", "labelOverlap": false, "labelFlush": false
              }
            },
            "y2": {"field": "c"},
            "color": {"condition": {"test": "datum.c >= datum.o", "value": "#089981"}, "value": "#f23645"}
          }
        },
        {
          "data": {"values": [{"last": 0.0822}]},
          "mark": {"type": "rule", "color": "#089981", "strokeWidth": 1, "strokeDash": [1, 2]},
          "encoding": {
            "y": {"field": "last", "type": "quantitative", "title": null, "scale": {"domain": [0.055727, 0.231966], "nice": false, "zero": false}}
          }
        },
        {
          "data": {"values": [{"a": "2025-12-31T23:48Z", "s": "TetherUS · 4h · Binance"}]},
          "mark": {"type": "text", "align": "right", "baseline": "middle", "font": "Roboto", "fontSize": 16.7, "color": "#131722"},
          "encoding": {
            "x": {"field": "a", "type": "temporal", "title": null},
            "y": {"datum": 0.228472, "scale": {"domain": [0.055727, 0.231966], "nice": false, "zero": false}},
            "text": {"field": "s"}
          }
        },
        {
          "data": {"values": [{"a": "2025-12-25T14:28Z", "b": "2025-12-27T12:28Z"}]},
          "mark": {"type": "rect", "color": "#2a2e39", "cornerRadius": 4},
          "encoding": {
            "x": {"field": "a", "type": "temporal", "title": null},
            "x2": {"field": "b"},
            "y": {"datum": 0.231310, "scale": {"domain": [0.055727, 0.231966], "nice": false, "zero": false}},
            "y2": {"datum": 0.226069}
          }
        },
        {
          "data": {"values": [{"a": "2025-12-25T19:08Z"}]},
          "mark": {"type": "point", "shape": "triangle-up", "filled": true, "size": 30, "color": "#2a2e39", "opacity": 1},
          "encoding": {
            "x": {"field": "a", "type": "temporal", "title": null},
            "y": {"datum": 0.231750, "scale": {"domain": [0.055727, 0.231966], "nice": false, "zero": false}}
          }
        },
        {
          "data": {"values": [{"a": "2025-12-26T13:28Z", "s": "1 minute"}]},
          "mark": {"type": "text", "align": "center", "baseline": "middle", "font": "Roboto", "fontSize": 13, "color": "#ffffff"},
          "encoding": {
            "x": {"field": "a", "type": "temporal", "title": null},
            "y": {"datum": 0.228690, "scale": {"domain": [0.055727, 0.231966], "nice": false, "zero": false}},
            "text": {"field": "s"}
          }
        },
        {
          "data": {"values": [{"a": "2026-01-01T11:08Z"}]},
          "mark": {"type": "point", "shape": "circle", "filled": true, "size": 220, "color": "#cdebe6", "opacity": 1},
          "encoding": {
            "x": {"field": "a", "type": "temporal", "title": null},
            "y": {"datum": 0.228472, "scale": {"domain": [0.055727, 0.231966], "nice": false, "zero": false}}
          }
        },
        {
          "data": {"values": [{"a": "2026-01-01T11:08Z"}]},
          "mark": {"type": "point", "shape": "circle", "filled": true, "size": 46, "color": "#089981", "opacity": 1},
          "encoding": {
            "x": {"field": "a", "type": "temporal", "title": null},
            "y": {"datum": 0.228472, "scale": {"domain": [0.055727, 0.231966], "nice": false, "zero": false}}
          }
        },
        {
          "data": {"values": [
            {"a": "2026-01-01T23:20Z", "s": "O"},
            {"a": "2026-01-03T12:52Z", "s": "H"},
            {"a": "2026-01-05T02:28Z", "s": "L"},
            {"a": "2026-01-06T14:20Z", "s": "C"}
          ]},
          "mark": {"type": "text", "align": "left", "baseline": "middle", "font": "Roboto", "fontSize": 13, "color": "#131722"},
          "encoding": {
            "x": {"field": "a", "type": "temporal", "title": null},
            "y": {"datum": 0.228472, "scale": {"domain": [0.055727, 0.231966], "nice": false, "zero": false}},
            "text": {"field": "s"}
          }
        },
        {
          "data": {"values": [
            {"a": "2026-01-02T06:40Z", "s": "0.0800"},
            {"a": "2026-01-03T19:56Z", "s": "0.0831"},
            {"a": "2026-01-05T07:20Z", "s": "0.0795"},
            {"a": "2026-01-06T19:48Z", "s": "0.0822"},
            {"a": "2026-01-08T02:48Z", "s": "+0.0021 (+2.62%)"}
          ]},
          "mark": {"type": "text", "align": "left", "baseline": "middle", "font": "Roboto", "fontSize": 13, "color": "#089981"},
          "encoding": {
            "x": {"field": "a", "type": "temporal", "title": null},
            "y": {"datum": 0.228472, "scale": {"domain": [0.055727, 0.231966], "nice": false, "zero": false}},
            "text": {"field": "s"}
          }
        },
        {
          "data": {"values": [{"a": "2025-12-25T14:28Z", "s": "Vol · XPL"}]},
          "mark": {"type": "text", "align": "left", "baseline": "middle", "font": "Roboto", "fontSize": 13, "color": "#131722"},
          "encoding": {
            "x": {"field": "a", "type": "temporal", "title": null},
            "y": {"datum": 0.223013, "scale": {"domain": [0.055727, 0.231966], "nice": false, "zero": false}},
            "text": {"field": "s"}
          }
        },
        {
          "data": {"values": [{"a": "2025-12-27T06:12Z", "s": "11.75M"}]},
          "mark": {"type": "text", "align": "left", "baseline": "middle", "font": "Roboto", "fontSize": 13, "color": "#22ab94"},
          "encoding": {
            "x": {"field": "a", "type": "temporal", "title": null},
            "y": {"datum": 0.223013, "scale": {"domain": [0.055727, 0.231966], "nice": false, "zero": false}},
            "text": {"field": "s"}
          }
        },
        {
          "data": {"values": [{"a": "2025-12-25T14:28Z", "b": "2025-12-26T08:28Z"}]},
          "mark": {"type": "rect", "fill": "#ffffff", "stroke": "#e0e3eb", "strokeWidth": 1, "cornerRadius": 3},
          "encoding": {
            "x": {"field": "a", "type": "temporal", "title": null},
            "x2": {"field": "b"},
            "y": {"datum": 0.219736, "scale": {"domain": [0.055727, 0.231966], "nice": false, "zero": false}},
            "y2": {"datum": 0.215586}
          }
        },
        {
          "data": {"values": [{"a": "2025-12-25T23:28Z"}]},
          "mark": {"type": "point", "shape": "M-1,0.5L0,-0.5L1,0.5", "filled": false, "size": 40, "stroke": "#131722", "strokeWidth": 1.5, "opacity": 1},
          "encoding": {
            "x": {"field": "a", "type": "temporal", "title": null},
            "y": {"datum": 0.217661, "scale": {"domain": [0.055727, 0.231966], "nice": false, "zero": false}}
          }
        },
        {
          "data": {"values": [{"a": "2025-12-26T03:48Z"}]},
          "mark": {"type": "point", "shape": "circle", "filled": true, "size": 900, "fill": "#ffffff", "stroke": "#e6e8ee", "strokeWidth": 1, "opacity": 1},
          "encoding": {
            "x": {"field": "a", "type": "temporal", "title": null},
            "y": {"datum": 0.062497, "scale": {"domain": [0.055727, 0.231966], "nice": false, "zero": false}}
          }
        },
        {
          "data": {"values": [{"a": "2025-12-26T03:48Z", "s": "TV"}]},
          "mark": {"type": "text", "align": "center", "baseline": "middle", "font": "DejaVu Sans", "fontWeight": "bold", "fontSize": 13, "color": "#131722"},
          "encoding": {
            "x": {"field": "a", "type": "temporal", "title": null},
            "y": {"datum": 0.062497, "scale": {"domain": [0.055727, 0.231966], "nice": false, "zero": false}},
            "text": {"field": "s"}
          }
        },
        {
          "data": {"values": [{"a": "2026-02-09T02:40Z"}]},
          "mark": {"type": "point", "shape": "M-1,0L-0.5,-0.87L0.5,-0.87L1,0L0.5,0.87L-0.5,0.87Z", "filled": false, "size": 200, "stroke": "#131722", "strokeWidth": 1.2, "opacity": 1},
          "encoding": {
            "x": {"field": "a", "type": "temporal", "title": null},
            "y": {"datum": 0.052667, "scale": {"domain": [0.055727, 0.231966], "nice": false, "zero": false}}
          }
        },
        {
          "data": {"values": [{"a": "2026-02-09T02:40Z"}]},
          "mark": {"type": "point", "shape": "circle", "filled": false, "size": 16, "stroke": "#131722", "strokeWidth": 1.2, "opacity": 1},
          "encoding": {
            "x": {"field": "a", "type": "temporal", "title": null},
            "y": {"datum": 0.052667, "scale": {"domain": [0.055727, 0.231966], "nice": false, "zero": false}}
          }
        },
        {
          "data": {"values": [{"a": "2026-02-08T05:48Z", "b": "2026-02-09T15:08Z", "last": 0.0822}]},
          "layer": [
            {
              "mark": {"type": "rect", "color": "#089981", "cornerRadius": 2},
              "encoding": {
                "x": {"field": "a", "type": "temporal", "title": null},
                "x2": {"field": "b"},
                "y": {"datum": 0.080344, "scale": {"domain": [0.055727, 0.231966], "nice": false, "zero": false}},
                "y2": {"datum": 0.084056}
              }
            },
            {
              "mark": {"type": "text", "align": "left", "baseline": "middle", "dx": 8, "font": "Roboto", "fontSize": 12, "color": "#ffffff"},
              "encoding": {
                "x": {"field": "a", "type": "temporal", "title": null},
                "y": {"field": "last", "type": "quantitative", "title": null, "scale": {"domain": [0.055727, 0.231966], "nice": false, "zero": false}},
                "text": {"field": "last", "format": ".4f"}
              }
            }
          ]
        }
      ]
    },
    {
      "data": {"values": [{"a": "2026-02-08T05:48Z", "b": "2026-02-09T18:28Z", "vol": 11.75, "lo": 4.45, "hi": 19.05}]},
      "layer": [
        {
          "mark": {"type": "rect", "color": "#26a69a", "cornerRadius": 2},
          "encoding": {
            "x": {"field": "a", "type": "temporal", "title": null},
            "x2": {"field": "b"},
            "y": {"field": "lo", "type": "quantitative", "title": null, "axis": null, "scale": {"domain": [0, 692], "nice": false}},
            "y2": {"field": "hi"}
          }
        },
        {
          "mark": {"type": "text", "align": "left", "baseline": "middle", "dx": 8, "font": "Roboto", "fontSize": 12, "color": "#ffffff"},
          "encoding": {
            "x": {"field": "a", "type": "temporal", "title": null},
            "y": {"field": "vol", "type": "quantitative", "title": null, "axis": null, "scale": {"domain": [0, 692], "nice": false}},
            "text": {"value": "11.75M"}
          }
        }
      ]
    }
  ]
}
